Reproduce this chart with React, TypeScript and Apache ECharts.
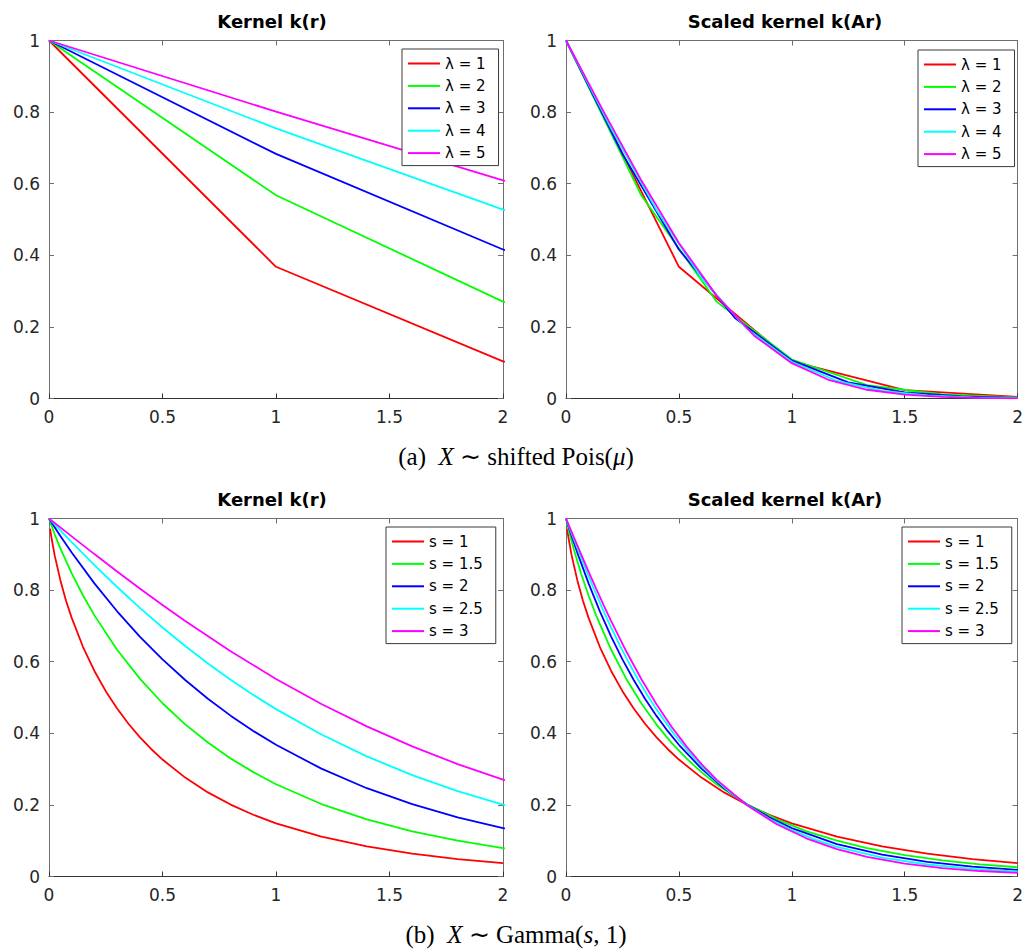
import React, { useEffect, useRef } from "react";
import * as echarts from "echarts";

// ---------- data ----------
const xTicks = [0, 0.5, 1, 1.5, 2];
const yTicks = [0, 0.2, 0.4, 0.6, 0.8, 1];

const poisNames = ["λ = 1", "λ = 2", "λ = 3", "λ = 4", "λ = 5"];
const poisScale = [2, 3, 4, 5, 6];
const poisR = [0, 1, 2, 3, 4, 5, 6, 7, 8, 9, 10, 11, 12];
const poisK1 = [1, 0.3679, 0.1036, 0.0233, 0.0043];
const poisK2 = [1, 0.5677, 0.2707, 0.109, 0.0376, 0.0112, 0.003];
const poisK3 = [1, 0.6833, 0.4163, 0.224, 0.1065, 0.0449, 0.0169, 0.0057, 0.0018];
const poisK4 = [1, 0.7546, 0.5275, 0.337, 0.1954, 0.1026, 0.0489, 0.0212, 0.0084, 0.0031, 0.001];
const poisK5 = [1, 0.8013, 0.6094, 0.4344, 0.2874, 0.1755, 0.0987, 0.0511, 0.0244, 0.0108, 0.0044, 0.0017, 0.0006];
const poisK = [poisK1, poisK2, poisK3, poisK4, poisK5];

const gammaNames = ["s = 1", "s = 1.5", "s = 2", "s = 2.5", "s = 3"];
const gammaScale = [1, 1.5, 2, 2.5, 3];
const gammaR1 = [0.005, 0.01, 0.025, 0.05, 0.075, 0.1, 0.15, 0.2, 0.25, 0.3, 0.35, 0.4, 0.45, 0.5, 0.6, 0.7, 0.8, 0.9, 1.0, 1.2, 1.4, 1.6, 1.8, 2.0];
const gammaK1 = [0.9714, 0.9497, 0.8969, 0.8278, 0.7704, 0.7225, 0.641, 0.5742, 0.5177, 0.4691, 0.4267, 0.3894, 0.3562, 0.3266, 0.2762, 0.2349, 0.2009, 0.1724, 0.1485, 0.1111, 0.0839, 0.0638, 0.0488, 0.0375];
const gammaR15 = [0, 0.025, 0.05, 0.1, 0.15, 0.2, 0.3, 0.4, 0.5, 0.6, 0.7, 0.8, 0.9, 1.0, 1.2, 1.4, 1.6, 1.8, 2.0, 2.25, 2.5, 2.75, 3.0];
const gammaK15 = [1, 0.9559, 0.9167, 0.8466, 0.7849, 0.7294, 0.6333, 0.5526, 0.4839, 0.425, 0.3741, 0.3299, 0.2915, 0.2578, 0.2024, 0.1596, 0.1262, 0.1, 0.0795, 0.0598, 0.0451, 0.0341, 0.0258];
const gammaR2 = [0, 0.05, 0.1, 0.2, 0.3, 0.4, 0.5, 0.6, 0.7, 0.8, 0.9, 1.0, 1.2, 1.4, 1.6, 1.8, 2.0, 2.4, 2.8, 3.2, 3.6, 4.0];
const gammaK2 = [1, 0.9512, 0.9048, 0.8187, 0.7408, 0.6703, 0.6065, 0.5488, 0.4966, 0.4493, 0.4066, 0.3679, 0.3012, 0.2466, 0.2019, 0.1653, 0.1353, 0.0907, 0.0608, 0.0408, 0.0273, 0.0183];
const gammaR25 = [0, 0.05, 0.1, 0.2, 0.3, 0.4, 0.5, 0.6, 0.7, 0.8, 0.9, 1.0, 1.2, 1.4, 1.6, 1.8, 2.0, 2.25, 2.5, 2.75, 3.0, 3.5, 4.0, 4.5, 5.0];
const gammaK25 = [1, 0.9668, 0.9339, 0.87, 0.8087, 0.7505, 0.6955, 0.6437, 0.5951, 0.5496, 0.5071, 0.4675, 0.3966, 0.3355, 0.2833, 0.2387, 0.2008, 0.1614, 0.1296, 0.1038, 0.083, 0.0529, 0.0335, 0.0212, 0.0133];
const gammaR3 = [0, 0.1, 0.2, 0.3, 0.4, 0.5, 0.6, 0.8, 1.0, 1.2, 1.4, 1.6, 1.8, 2.0, 2.4, 2.8, 3.2, 3.6, 4.0, 4.5, 5.0, 5.5, 6.0];
const gammaK3 = [1, 0.9501, 0.9006, 0.8519, 0.8044, 0.7582, 0.7135, 0.6291, 0.5518, 0.4819, 0.4192, 0.3634, 0.3141, 0.2707, 0.1996, 0.1459, 0.106, 0.0765, 0.0549, 0.0361, 0.0236, 0.0153, 0.0099];
const gammaR = [gammaR1, gammaR15, gammaR2, gammaR25, gammaR3];
const gammaK = [gammaK1, gammaK15, gammaK2, gammaK25, gammaK3];

const colors = ["#ff0000", "#00ff00", "#0000ff", "#00ffff", "#ff00ff"];

const titles = ["Kernel k(r)", "Scaled kernel k(Ar)", "Kernel k(r)", "Scaled kernel k(Ar)"];

// ---------- layout ----------
const grids = [
  { left: 49, top: 40.5, width: 454, height: 358 },
  { left: 566, top: 40.5, width: 454, height: 358 },
  { left: 49, top: 518.5, width: 454, height: 358 },
  { left: 566, top: 518.5, width: 454, height: 358 },
];
const titleX = [272, 785, 272, 785];
const titleY = [12, 12, 490, 490];
const legendPos = [
  { left: 402, top: 49 },
  { left: 918, top: 50 },
  { left: 386, top: 527 },
  { left: 902, top: 527 },
];

const TICK_FONT = "DejaVu Sans";
const darkAxis = "#333333";
const lightAxis = "#6e6e6e";

function buildOption() {
  const xAxis: any[] = [];
  const yAxis: any[] = [];
  grids.forEach((_, g) => {
    xAxis.push({
      gridIndex: g,
      type: "value",
      position: "bottom",
      min: xTicks[0],
      max: xTicks[xTicks.length - 1],
      interval: xTicks[1] - xTicks[0],
      axisLine: { show: true, onZero: false, lineStyle: { color: darkAxis, width: 1 } },
      axisTick: { show: true, inside: true, length: 5, lineStyle: { color: darkAxis } },
      axisLabel: { show: true, margin: 10, color: "#262626", fontSize: 17, fontFamily: TICK_FONT },
      splitLine: { show: false },
    });
    xAxis.push({
      gridIndex: g,
      type: "value",
      position: "top",
      min: xTicks[0],
      max: xTicks[xTicks.length - 1],
      interval: xTicks[1] - xTicks[0],
      axisLine: { show: true, onZero: false, lineStyle: { color: lightAxis, width: 1 } },
      axisTick: { show: true, inside: true, length: 5, lineStyle: { color: lightAxis } },
      axisLabel: { show: false },
      splitLine: { show: false },
    });
    yAxis.push({
      gridIndex: g,
      type: "value",
      position: "left",
      min: yTicks[0],
      max: yTicks[yTicks.length - 1],
      interval: yTicks[1] - yTicks[0],
      axisLine: { show: true, onZero: false, lineStyle: { color: lightAxis, width: 1 } },
      axisTick: { show: true, inside: true, length: 5, lineStyle: { color: lightAxis } },
      axisLabel: { show: true, margin: 9, color: "#262626", fontSize: 17, fontFamily: TICK_FONT },
      splitLine: { show: false },
    });
    yAxis.push({
      gridIndex: g,
      type: "value",
      position: "right",
      min: yTicks[0],
      max: yTicks[yTicks.length - 1],
      interval: yTicks[1] - yTicks[0],
      axisLine: { show: true, onZero: false, lineStyle: { color: lightAxis, width: 1 } },
      axisTick: { show: true, inside: true, length: 5, lineStyle: { color: lightAxis } },
      axisLabel: { show: false },
      splitLine: { show: false },
    });
  });

  const series: any[] = [];
  const mk = (g: number, name: string, color: string, data: number[][]) => ({
    type: "line",
    name,
    xAxisIndex: g * 2,
    yAxisIndex: g * 2,
    data,
    symbol: "none",
    showSymbol: false,
    smooth: false,
    clip: true,
    lineStyle: { color, width: 1.8 },
    itemStyle: { color },
    emphasis: { disabled: true },
  });

  poisK.forEach((arr, i) => {
    series.push(mk(0, poisNames[i], colors[i], arr.map((v, r) => [poisR[r], v])));
  });
  poisK.forEach((arr, i) => {
    series.push(mk(1, poisNames[i], colors[i], arr.map((v, r) => [poisR[r] / poisScale[i], v])));
  });
  gammaK.forEach((arr, i) => {
    series.push(mk(2, gammaNames[i], colors[i], arr.map((v, j) => [gammaR[i][j], v])));
  });
  gammaK.forEach((arr, i) => {
    series.push(mk(3, gammaNames[i], colors[i], arr.map((v, j) => [gammaR[i][j] / gammaScale[i], v])));
  });

  const legend = legendPos.map((p, g) => ({
    data: (g < 2 ? poisNames : gammaNames).map((n) => ({ name: n, icon: "rect" })),
    left: p.left,
    top: p.top,
    orient: "vertical",
    itemWidth: 32,
    itemHeight: 2,
    itemGap: 7.4,
    itemTextGap: 2,
    padding: [7, 13, 5, 6],
    borderColor: "#3a3a3a",
    borderWidth: 1,
    borderRadius: 0,
    backgroundColor: "#ffffff",
    selectedMode: false,
    itemStyle: { borderWidth: 0 },
    lineStyle: { opacity: 0 },
    textStyle: { fontSize: 15, lineHeight: 14, fontFamily: TICK_FONT, color: "#000000" },
  }));

  const serif = "Liberation Serif";
  const capRich = {
    n: { fontFamily: serif, fontSize: 25, fill: "#000", color: "#000" },
    i: { fontFamily: serif, fontSize: 25, fontStyle: "italic", fill: "#000", color: "#000" },
  };

  const graphic: any[] = titles.map((t, g) => ({
    type: "text",
    x: titleX[g],
    y: titleY[g],
    silent: true,
    style: {
      text: t,
      fontFamily: TICK_FONT,
      fontWeight: "bold",
      fontSize: 18,
      fill: "#000",
      textAlign: "center",
      textVerticalAlign: "top",
    },
  }));
  graphic.push({
    type: "text",
    x: 516,
    y: 456,
    silent: true,
    style: {
      text: "{n|(a)  }{i|X}{n| ∼ shifted Pois(}{i|μ}{n|)}",
      rich: capRich,
      textAlign: "center",
      textVerticalAlign: "middle",
    },
  });
  graphic.push({
    type: "text",
    x: 516,
    y: 934,
    silent: true,
    style: {
      text: "{n|(b)  }{i|X}{n| ∼ Gamma(}{i|s}{n|, 1)}",
      rich: capRich,
      textAlign: "center",
      textVerticalAlign: "middle",
    },
  });

  return {
    animation: false,
    backgroundColor: "#ffffff",
    grid: grids.map((g) => ({ ...g, containLabel: false })),
    xAxis,
    yAxis,
    series,
    legend,
    graphic,
  };
}

export default function App() {
  const ref = useRef<HTMLDivElement>(null);
  useEffect(() => {
    if (!ref.current) return;
    const chart = echarts.init(ref.current, undefined, { renderer: "svg" });
    chart.setOption(buildOption() as any);
    return () => chart.dispose();
  }, []);
  return (
    <div
      ref={ref}
      style={{ position: "absolute", left: 0, top: 0, width: 1026, height: 951, background: "#fff" }}
    />
  );
}
